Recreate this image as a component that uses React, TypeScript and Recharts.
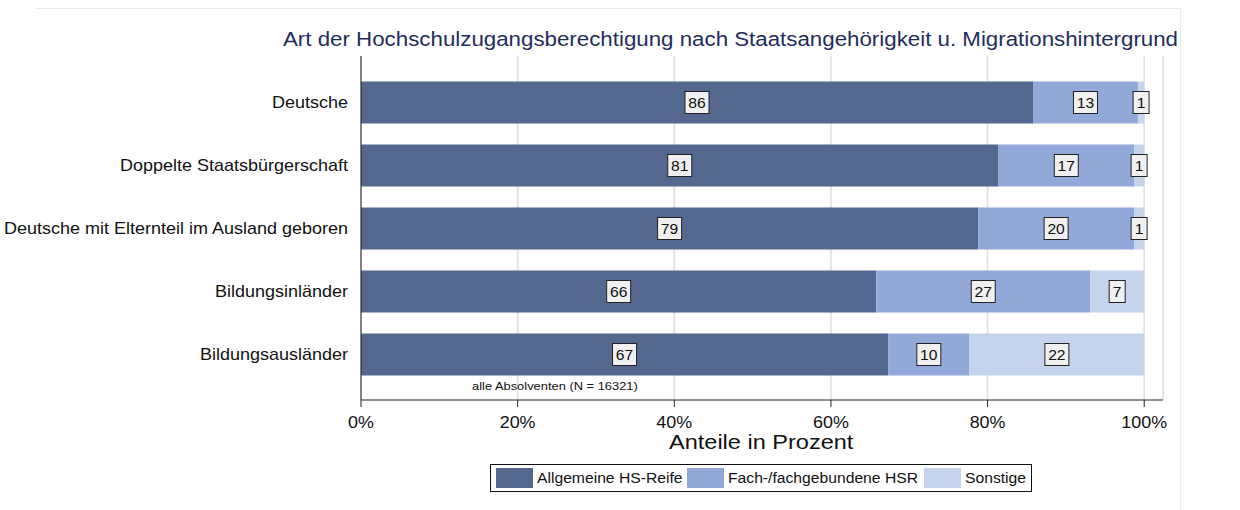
import React from 'react';
import { BarChart, Bar, XAxis, YAxis, CartesianGrid, LabelList } from 'recharts';

const categories = [
  'Deutsche',
  'Doppelte Staatsbürgerschaft',
  'Deutsche mit Elternteil im Ausland geboren',
  'Bildungsinländer',
  'Bildungsausländer',
];
const allgemein = [85.8, 81.4, 78.8, 65.8, 67.3];
const fach = [13.4, 17.3, 19.9, 27.3, 10.4];
const sonstige = [0.8, 1.3, 1.3, 6.9, 22.3];
const seriesNames = ['Allgemeine HS-Reife', 'Fach-/fachgebundene HSR', 'Sonstige'];
const xTicks = [0, 20, 40, 60, 80, 100];

const COLORS = ['#53678f', '#91a8d8', '#c6d3ec'];
const FONT = '"Liberation Sans", Arial, Helvetica, sans-serif';
const SX = 1.12;

const data = categories.map((c, i) => ({
  name: c,
  a: allgemein[i],
  f: fach[i],
  s: sonstige[i],
}));

const renderBoxLabel = (props: any) => {
  const { x, y, width, height, value } = props;
  if (value == null) return null;
  const text = String(Math.round(Number(value)));
  const w = text.length * 8 + 8;
  const cx = Number(x) + Number(width) / 2;
  const cy = Number(y) + Number(height) / 2;
  return (
    <g>
      <rect x={cx - w / 2} y={cy - 11} width={w} height={22} fill="#f0f0f0" stroke="#222" strokeWidth={1} />
      <text
        x={cx}
        y={cy + 5.5}
        textAnchor="middle"
        fontSize={14.5}
        fontFamily={FONT}
        fill="#111"
        transform={`translate(${cx} 0) scale(1.08 1) translate(${-cx} 0)`}
      >
        {text}
      </text>
    </g>
  );
};

const YTick = (props: any) => {
  const { x, y, payload } = props;
  return (
    <text
      x={x}
      y={y}
      dy="0.36em"
      textAnchor="end"
      fontSize={16}
      fontFamily={FONT}
      fill="#111"
      transform={`translate(${x} ${y}) scale(1.125 1) translate(${-x} ${-y})`}
    >
      {payload.value}
    </text>
  );
};

const XTick = (props: any) => {
  const { x, y, payload } = props;
  return (
    <text
      x={x}
      y={y}
      dy="0.71em"
      textAnchor="middle"
      fontSize={16}
      fontFamily={FONT}
      fill="#111"
      transform={`translate(${x} ${y}) scale(${SX} 1) translate(${-x} ${-y})`}
    >
      {`${payload.value}%`}
    </text>
  );
};

const stretch = { transform: `scaleX(${SX})`, transformOrigin: 'left center' } as const;

export default function App() {
  return (
    <div style={{ position: 'absolute', left: 0, top: 0, width: 1240, height: 510, background: '#fff', fontFamily: FONT }}>
      <div style={{ position: 'absolute', left: 36, top: 8, width: 1144, height: 502, borderTop: '1px solid #e6ebf1', borderRight: '1px solid #e6ebf1' }} />
      <div style={{ position: 'absolute', left: 283, top: 27, fontSize: 20, color: '#1f2d5c', whiteSpace: 'nowrap', lineHeight: '24px', transform: 'scaleX(1.115)', transformOrigin: 'left center' }}>
        Art der Hochschulzugangsberechtigung nach Staatsangehörigkeit u. Migrationshintergrund
      </div>
      <BarChart
        width={1240}
        height={510}
        data={data}
        layout="vertical"
        margin={{ top: 56, right: 77, bottom: 0, left: 0 }}
        style={{ position: 'absolute', left: 0, top: 0 }}
      >
        <CartesianGrid horizontal={false} stroke="#dedede" strokeWidth={1.5} />
        <XAxis
          type="number"
          domain={[0, 102.4]}
          ticks={xTicks}
          axisLine={{ stroke: '#222' }}
          tickLine={{ stroke: '#222' }}
          tickSize={7}
          tickMargin={10}
          height={110}
          tick={<XTick />}
          allowDataOverflow
        />
        <YAxis
          type="category"
          dataKey="name"
          width={361}
          axisLine={{ stroke: '#222' }}
          tickLine={false}
          tickMargin={7}
          padding={{ top: 14.5, bottom: 14.5 } as any}
          tick={<YTick />}
          interval={0}
        />
        <Bar dataKey="a" stackId="s" fill={COLORS[0]} barSize={42} isAnimationActive={false}>
          <LabelList dataKey="a" content={renderBoxLabel} />
        </Bar>
        <Bar dataKey="f" stackId="s" fill={COLORS[1]} barSize={42} isAnimationActive={false}>
          <LabelList dataKey="f" content={renderBoxLabel} />
        </Bar>
        <Bar dataKey="s" stackId="s" fill={COLORS[2]} barSize={42} isAnimationActive={false}>
          <LabelList dataKey="s" content={renderBoxLabel} />
        </Bar>
      </BarChart>
      <div style={{ position: 'absolute', left: 472, top: 379, fontSize: 11.5, color: '#111', whiteSpace: 'nowrap', lineHeight: '14px', ...stretch }}>
        alle Absolventen (N = 16321)
      </div>
      <div style={{ position: 'absolute', left: 669, top: 432, fontSize: 21, color: '#111', whiteSpace: 'nowrap', lineHeight: '20px', height: 20, ...stretch }}>
        Anteile in Prozent
      </div>
      <div style={{ position: 'absolute', left: 490, top: 464, width: 540, height: 26, border: '1px solid #111', boxSizing: 'content-box' }}>
        {seriesNames.map((n, i) => {
          const swatchLeft = [5, 196, 433][i];
          return (
            <React.Fragment key={n}>
              <div style={{ position: 'absolute', left: swatchLeft, top: 3, width: 37, height: 20, background: COLORS[i] }} />
              <span style={{ position: 'absolute', left: swatchLeft + 41, top: 4, fontSize: 14, lineHeight: '18px', color: '#111', whiteSpace: 'nowrap', ...stretch }}>{n}</span>
            </React.Fragment>
          );
        })}
      </div>
    </div>
  );
}
